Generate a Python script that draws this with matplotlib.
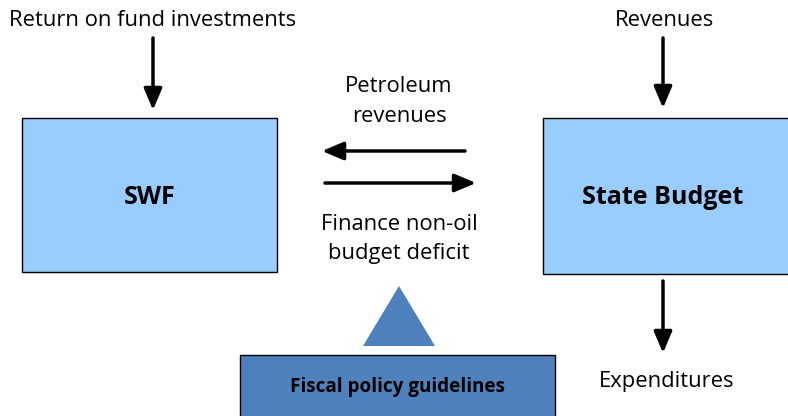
import matplotlib.pyplot as plt
from matplotlib.patches import Rectangle, Polygon

plt.rcParams['font.family'] = ['Open Sans', 'DejaVu Sans']

# boxes: label, x, y, width, height, colour
box_labels = ["SWF", "State Budget", "Fiscal policy guidelines"]
box_x = [22, 543, 240]
box_y = [118, 118, 355]
box_w = [255, 260, 315]
box_h = [154, 156, 80]
box_colors = ["#99CCFF", "#99CCFF", "#4F81BD"]
box_fs = [18, 18, 13.6]
label_x = [150, 663, 398]
label_y = [197, 198, 387]

# arrows: start -> end
arrow_start = [(153, 38), (663, 38), (663, 281), (465, 151), (325, 183)]
arrow_end = [(153, 110), (663, 108), (663, 353), (322, 151), (476, 183)]

# free text
text_labels = ["Return on fund investments", "Revenues", "Petroleum", "revenues",
               "Finance non-oil", "budget deficit", "Expenditures"]
text_x = [153, 665, 399, 399, 399, 399, 667]
text_y = [20, 20, 87, 116, 224, 254, 382]

fig = plt.figure(figsize=(7.88, 4.16), dpi=100)
ax = fig.add_axes([0, 0, 1, 1])
ax.set_xlim(0, 788)
ax.set_ylim(416, 0)
ax.axis("off")

for lab, x, y, w, h, c, fs, lx, ly in zip(box_labels, box_x, box_y, box_w, box_h,
                                          box_colors, box_fs, label_x, label_y):
    ax.add_patch(Rectangle((x, y), w, h, facecolor=c, edgecolor="black", lw=1.0))
    ax.text(lx, ly, lab, ha="center", va="center", fontsize=fs, fontweight="bold")

# triangle
ax.add_patch(Polygon([(399, 286), (435, 346), (363, 346)], closed=True,
                     facecolor="#4F81BD", edgecolor="none"))

for s, e in zip(arrow_start, arrow_end):
    ax.annotate("", xy=e, xytext=s,
                arrowprops=dict(arrowstyle="-|>,head_length=1.3,head_width=0.55",
                                color="black", lw=2.5, shrinkA=0, shrinkB=0))

for lab, x, y in zip(text_labels, text_x, text_y):
    ax.text(x, y, lab, ha="center", va="center", fontsize=15.8)

fig.savefig("out.png", dpi=100)
